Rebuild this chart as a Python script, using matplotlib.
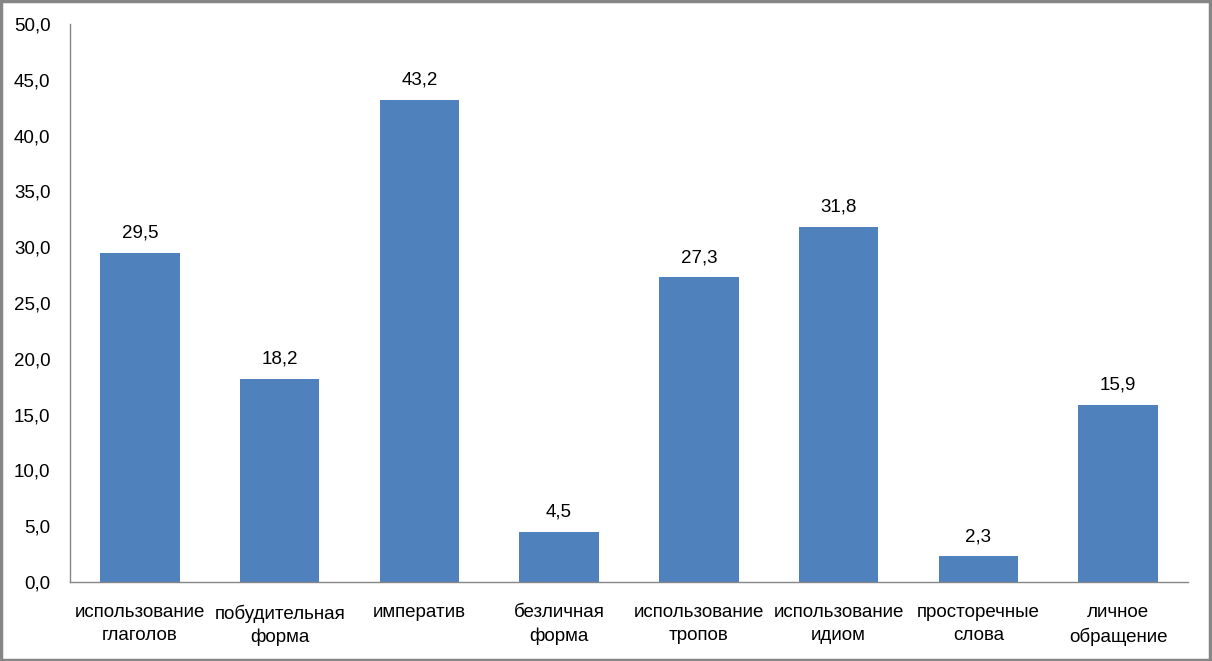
import matplotlib
matplotlib.use('Agg')
import matplotlib.pyplot as plt
from matplotlib.patches import Rectangle

categories = ['использование\nглаголов', 'побудительная\nформа', 'императив',
              'безличная\nформа', 'использование\nтропов', 'использование\nидиом',
              'просторечные\nслова', 'личное\nобращение']
values = [29.5, 18.2, 43.2, 4.5, 27.3, 31.8, 2.3, 15.9]
yticks = [0, 5, 10, 15, 20, 25, 30, 35, 40, 45, 50]

plt.rcParams['font.family'] = ['Liberation Sans', 'DejaVu Sans']
fs = 13.5

fig = plt.figure(figsize=(12.12, 6.61), dpi=100)
ax = fig.add_axes([70 / 1212, 1 - 582 / 661, 1118 / 1212, 558 / 661])

x = range(len(categories))
ax.bar(x, values, width=0.57, color='#4F81BD', zorder=2)
for xi, v in zip(x, values):
    ax.text(xi, v + 1.0, '{:.1f}'.format(v).replace('.', ','), ha='center', va='bottom', fontsize=fs)

ax.set_xlim(-0.5, len(categories) - 0.5)
ax.set_ylim(0, 50)
ax.set_yticks(yticks)
ax.set_yticklabels(['{:.1f}'.format(t).replace('.', ',') for t in yticks], fontsize=fs)
ax.set_xticks(list(x))
ax.set_xticklabels(categories, fontsize=fs, linespacing=1.45)
ax.tick_params(length=0, pad=14)
ax.tick_params(axis='x', pad=16)

for side in ['top', 'right']:
    ax.spines[side].set_visible(False)
for side in ['left', 'bottom']:
    ax.spines[side].set_color('#868686')
    ax.spines[side].set_linewidth(1)

fig.patches.append(Rectangle((0.001, 0.002), 0.997, 0.996, transform=fig.transFigure,
                             fill=False, edgecolor='#868686', linewidth=2.5))

fig.savefig('out.png', dpi=100)
